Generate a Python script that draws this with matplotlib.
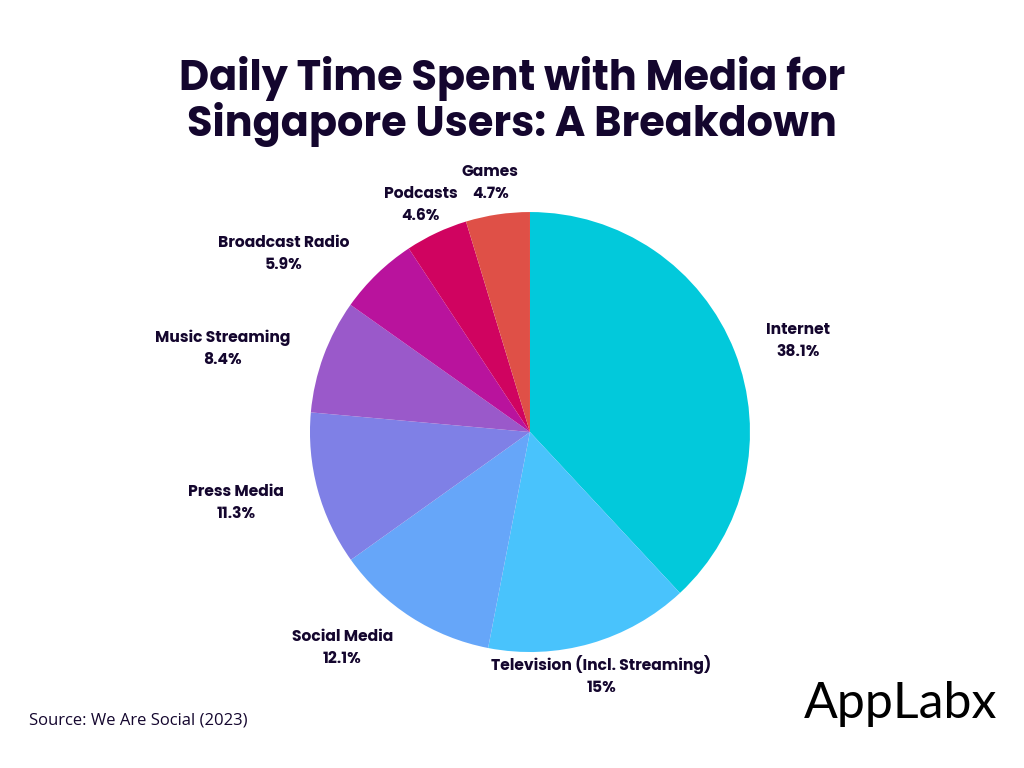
import matplotlib.pyplot as plt
import numpy as np

# data
categories = ['Internet', 'Television (Incl. Streaming)', 'Social Media', 'Press Media',
              'Music Streaming', 'Broadcast Radio', 'Podcasts', 'Games']
shares = [38.1, 15, 12.1, 11.3, 8.4, 5.9, 4.6, 4.7]
share_labels = ['38.1%', '15%', '12.1%', '11.3%', '8.4%', '5.9%', '4.6%', '4.7%']
colors = ['#02C9DB', '#49C3FC', '#66A6F9', '#7F80E6', '#9A59CA', '#B9139D', '#D00360', '#DF5047']
# label placement: distance (pie radii) and angle nudge (degrees) from wedge middle
label_dist = [1.29, 1.14, 1.29, 1.37, 1.45, 1.39, 1.16, 1.16]
label_nudge = [-2.1, 0.5, -8.7, -2.2, 4.5, 9.7, 0.2, 0.5]

dark = '#14062E'
label_font = ['Poppins', 'Inter', 'DejaVu Sans']

fig = plt.figure(figsize=(10.24, 7.68), dpi=100)
fig.patch.set_facecolor('white')

fig.text(0.5, 0.868, 'Daily Time Spent with Media for\nSingapore Users: A Breakdown',
         ha='center', va='center', fontsize=29.8, fontweight='bold', color=dark,
         family=label_font, linespacing=1.05)

ax = fig.add_axes([0.3027, 0.151, 0.4297, 0.5729])
wedges, _ = ax.pie(shares, colors=colors, startangle=90, counterclock=False,
                   radius=1, wedgeprops=dict(linewidth=0))
ax.set_xlim(-1, 1)
ax.set_ylim(-1, 1)
ax.set_aspect('equal')
ax.axis('off')

for w, name, pct, d, nudge in zip(wedges, categories, share_labels, label_dist, label_nudge):
    ang = np.deg2rad((w.theta1 + w.theta2) / 2 + nudge)
    x, y = d * np.cos(ang), d * np.sin(ang) - 0.014
    ax.text(x, y, name + '\n' + pct, ha='center', va='center', fontsize=11.2,
            fontweight='bold', color=dark, family=label_font, linespacing=1.5,
            clip_on=False)

fig.text(0.028, 0.062, 'Source: We Are Social (2023)', ha='left', va='center',
         fontsize=12, color=dark, family=['Open Sans', 'DejaVu Sans'])

fig.text(0.974, 0.083, 'AppLabx', ha='right', va='center', fontsize=36,
         color='black', family=['Lato', 'DejaVu Sans'])

fig.savefig('out.png', dpi=100, facecolor='white')
